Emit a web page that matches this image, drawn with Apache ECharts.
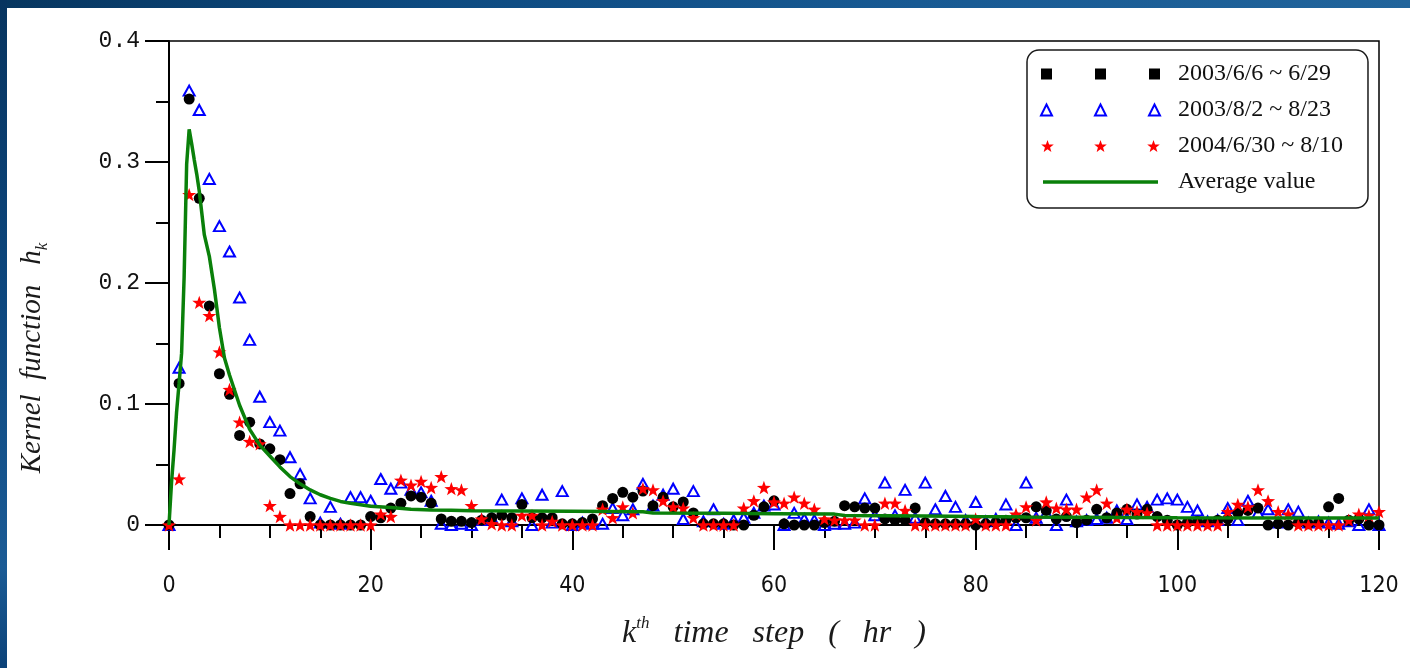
<!DOCTYPE html>
<html>
<head>
<meta charset="utf-8">
<script src="https://cdn.jsdelivr.net/npm/echarts/dist/echarts.min.js"></script>
<style>
  html, body { margin: 0; padding: 0; width: 1410px; height: 668px; overflow: hidden; }
  body { position: relative; background: linear-gradient(90deg, #07365f 0%, #0d4a80 30%, #185a93 65%, #21649b 100%); }
  #edge { position: absolute; left: 0; top: 0; width: 7px; height: 668px;
          background: linear-gradient(180deg, #07345f 0%, #0d477e 45%, #1b5b95 85%, #0c4278 100%); }
  #panel { position: absolute; left: 7px; top: 8px; right: 0; bottom: 0; background: #ffffff; }
  #chart { position: absolute; left: 0; top: 0; width: 1410px; height: 668px; }
</style>
</head>
<body>
<div id="edge"></div>
<div id="panel"></div>
<div id="chart"></div>
<script>
// time steps k = 0 … 120 (hours)
const kSteps = Array.from({ length: 121 }, (_, i) => i);

// kernel ordinates h_k, event 2003/6/6 ~ 6/29
const hJune2003 = [
  0, 0.117, 0.352, 0.270, 0.181, 0.125, 0.108, 0.074, 0.085, 0.067,
  0.063, 0.054, 0.026, 0.034, 0.007, 0, 0, 0, 0, 0,
  0.007, 0.006, 0.014, 0.018, 0.024, 0.023, 0.018, 0.005, 0.003, 0.003,
  0.002, 0.004, 0.006, 0.008, 0.006, 0.017, 0.006, 0.006, 0.006, 0.001,
  0.001, 0.002, 0.005, 0.016, 0.022, 0.027, 0.023, 0.028, 0.016, 0.023,
  0.015, 0.019, 0.010, 0.001, 0.001, 0.001, 0, 0, 0.008, 0.015,
  0.020, 0.001, 0, 0, 0, 0.002, 0.003, 0.016, 0.015, 0.014,
  0.014, 0.005, 0.004, 0.004, 0.014, 0.002, 0.001, 0.001, 0.001, 0.001,
  0, 0.001, 0.002, 0.004, 0.006, 0.006, 0.015, 0.012, 0.005, 0.007,
  0.002, 0.004, 0.013, 0.006, 0.010, 0.013, 0.009, 0.013, 0.007, 0.004,
  0, 0.002, 0.003, 0.002, 0.004, 0.005, 0.010, 0.012, 0.014, 0,
  0.001, 0, 0.002, 0.001, 0.002, 0.015, 0.022, 0.004, 0.005, 0,
  0
];

// kernel ordinates h_k, event 2003/8/2 ~ 8/23
const hAug2003 = [
  0, 0.130, 0.359, 0.343, 0.286, 0.247, 0.226, 0.188, 0.153, 0.106,
  0.085, 0.078, 0.056, 0.042, 0.022, 0.002, 0.015, 0.001, 0.023, 0.023,
  0.020, 0.038, 0.030, 0.035, 0.029, 0.027, 0.020, 0.001, 0, 0.001,
  0, 0.004, 0.006, 0.021, 0.003, 0.022, 0, 0.025, 0.002, 0.028,
  0, 0.002, 0.001, 0.001, 0.014, 0.008, 0.013, 0.034, 0.016, 0.025,
  0.030, 0.005, 0.028, 0.003, 0.013, 0.001, 0.004, 0.006, 0.010, 0.016,
  0.017, 0, 0.010, 0.005, 0.004, 0, 0.001, 0.001, 0.002, 0.022,
  0.008, 0.035, 0.008, 0.029, 0.006, 0.035, 0.013, 0.024, 0.015, 0.004,
  0.019, 0.003, 0.005, 0.017, 0, 0.035, 0.006, 0.010, 0, 0.021,
  0.003, 0.004, 0.005, 0.006, 0.012, 0.005, 0.017, 0.015, 0.021, 0.022,
  0.021, 0.015, 0.012, 0.003, 0.004, 0.014, 0.004, 0.020, 0.010, 0.013,
  0.002, 0.013, 0.011, 0.002, 0.003, 0.002, 0.001, 0.003, 0, 0.013,
  0
];

// kernel ordinates h_k, event 2004/6/30 ~ 8/10
const hJul2004 = [
  0, 0.038, 0.273, 0.184, 0.173, 0.143, 0.112, 0.085, 0.069, 0.067,
  0.016, 0.007, 0, 0, 0, 0, 0, 0, 0, 0,
  0, 0.009, 0.007, 0.037, 0.033, 0.036, 0.031, 0.040, 0.030, 0.029,
  0.016, 0.005, 0.001, 0, 0, 0.008, 0.008, 0, 0.003, 0,
  0, 0, 0, 0.013, 0.006, 0.015, 0.010, 0.030, 0.029, 0.020,
  0.015, 0.014, 0.006, 0, 0, 0, 0, 0.014, 0.020, 0.031,
  0.019, 0.018, 0.023, 0.018, 0.013, 0.005, 0.004, 0.004, 0.004, 0,
  0, 0.018, 0.018, 0.012, 0, 0, 0, 0, 0, 0,
  0.005, 0, 0, 0, 0.009, 0.015, 0.004, 0.019, 0.014, 0.013,
  0.013, 0.023, 0.029, 0.018, 0.006, 0.013, 0.011, 0.010, 0, 0,
  0, 0, 0, 0, 0, 0.011, 0.017, 0.015, 0.029, 0.020,
  0.011, 0.009, 0, 0, 0, 0, 0, 0.004, 0.009, 0.008,
  0.011
];

// averaged kernel curve (k, h_k)
const avgK = [0, 0.25, 0.5, 0.75, 1, 1.25, 1.5, 1.75, 2, 2.25, 2.5, 2.75, 3, 3.25, 3.5, 4, 4.5, 5, 5.5, 6,
              7, 8, 9, 10, 11, 12, 13, 14, 15, 16, 17, 18, 20, 22, 24, 26, 28, 30, 35, 40,
              47, 48, 55, 60, 66, 67, 75, 80, 85, 90, 95, 100, 110, 120];
const avgH = [0, 0.035, 0.062, 0.093, 0.117, 0.142, 0.205, 0.298, 0.327, 0.315, 0.302, 0.290, 0.276, 0.258, 0.240, 0.222, 0.195, 0.163, 0.138, 0.124,
              0.099, 0.079, 0.066, 0.057, 0.048, 0.040, 0.034, 0.029, 0.025, 0.022, 0.0195, 0.018, 0.0155, 0.0145, 0.013, 0.0124, 0.0121, 0.0118, 0.0116, 0.0114,
              0.0110, 0.0099, 0.0097, 0.0094, 0.0090, 0.0078, 0.0075, 0.0070, 0.0066, 0.0064, 0.0062, 0.0060, 0.0058, 0.0057];

const yTicks = ['0', '0.1', '0.2', '0.3', '0.4'];
const seriesNames = ['2003/6/6 ~ 6/29', '2003/8/2 ~ 8/23', '2004/6/30 ~ 8/10', 'Average value'];

// five-pointed star outline centred at (cx, cy)
function starPath(cx, cy, R, r) {
  let d = '';
  for (let i = 0; i < 10; i++) {
    const a = -Math.PI / 2 + i * Math.PI / 5;
    const rad = i % 2 ? r : R;
    d += (i ? 'L' : 'M') + (cx + rad * Math.cos(a)).toFixed(2) + ',' + (cy + rad * Math.sin(a)).toFixed(2);
  }
  return d + 'Z';
}

// invisible corner specks pin every legend icon to the same 119 x 12 box
const iconBox = ' M0,0h0.01v0.01z M119,12h-0.01v-0.01z';
// legend icons: three copies of each marker, and a plain bar for the curve
const legendSquares = 'path://M0,0.5h11v11h-11z M54,0.5h11v11h-11z M108,0.5h11v11h-11z' + iconBox;
const legendTriangles = 'path://M5.5,0.5L11,11.5H0Z M59.5,0.5L65,11.5H54Z M113.5,0.5L119,11.5H108Z';
const legendStars = 'path://' + starPath(6.5, 6.6, 6.6, 2.7) + ' ' + starPath(59.5, 6.6, 6.6, 2.7) + ' ' + starPath(112.5, 6.6, 6.6, 2.7) + iconBox;
const legendBar = 'path://M2,4.2H117V7.8H2Z' + iconBox;

const pairs = vals => kSteps.map((k, i) => [k, vals[i]]);

const chart = echarts.init(document.getElementById('chart'), null, { renderer: 'canvas' });

const tickFont = { color: '#111' };
const serifItalic = { fontFamily: 'Liberation Serif', fontStyle: 'italic', color: '#1a1a1a' };

chart.setOption({
  animation: false,
  backgroundColor: 'transparent',
  grid: {
    left: 169, right: 31, top: 41, bottom: 143,
    show: true, borderColor: '#000', borderWidth: 1.5
  },
  legend: {
    left: 1027, top: 50, orient: 'vertical',
    padding: [12, 25, 14, 13],
    itemGap: 12, itemWidth: 119, itemHeight: 12,
    selectedMode: false,
    backgroundColor: '#fff', borderColor: '#1a1a1a', borderWidth: 1.5, borderRadius: 12,
    textStyle: { fontFamily: 'Liberation Serif', fontSize: 24, color: '#111', lineHeight: 24, padding: [0, 0, 0, 13] },
    data: [
      { name: seriesNames[0], icon: legendSquares, itemStyle: { color: '#000', opacity: 1 } },
      { name: seriesNames[1], icon: legendTriangles, itemStyle: { color: '#fff', borderColor: '#0000ff', borderWidth: 2, opacity: 1 } },
      { name: seriesNames[2], icon: legendStars, itemStyle: { color: '#ff0000', opacity: 1 } },
      { name: seriesNames[3], icon: legendBar, itemStyle: { color: '#0a800a', borderWidth: 0, opacity: 1 } }
    ]
  },
  xAxis: {
    type: 'value', min: 0, max: 120, interval: 20,
    axisLine: { lineStyle: { color: '#000', width: 2 } },
    axisTick: { length: 25, lineStyle: { color: '#000', width: 2 } },
    minorTick: { show: true, splitNumber: 4, length: 13, lineStyle: { color: '#000', width: 2 } },
    splitLine: { show: false },
    axisLabel: Object.assign({ margin: 50, fontSize: 23, fontFamily: "'Liberation Sans Narrow', 'DejaVu Sans Condensed', sans-serif" }, tickFont),
    name: '{i|k}{sup|th}{i|   time   step   (   hr   )}',
    nameLocation: 'middle', nameGap: 90,
    nameTextStyle: {
      rich: {
        i: Object.assign({ fontSize: 32, lineHeight: 38, verticalAlign: 'middle' }, serifItalic),
        sup: Object.assign({ fontSize: 17, lineHeight: 18, verticalAlign: 'top' }, serifItalic)
      }
    }
  },
  yAxis: {
    type: 'value', min: 0, max: 0.4, interval: 0.1,
    axisLine: { lineStyle: { color: '#000', width: 2 } },
    axisTick: { length: 24, lineStyle: { color: '#000', width: 2 } },
    minorTick: { show: true, splitNumber: 2, length: 13, lineStyle: { color: '#000', width: 2 } },
    splitLine: { show: false },
    axisLabel: Object.assign({
      margin: 29, fontSize: 23, fontFamily: "'Liberation Mono', monospace",
      formatter: v => yTicks[Math.round(v * 10)]
    }, tickFont),
    name: '{t|Kernel  function}{g|}{t|h}{s|k}{pad|}',
    nameLocation: 'middle', nameGap: 118,
    nameTextStyle: {
      rich: {
        t: Object.assign({ fontSize: 29, lineHeight: 38, verticalAlign: 'middle' }, serifItalic),
        g: { width: 20 },
        s: Object.assign({ fontSize: 17, lineHeight: 17, verticalAlign: 'bottom' }, serifItalic),
        pad: { width: 150 }
      }
    }
  },
  series: [
    {
      name: seriesNames[0], type: 'scatter', z: 3,
      symbol: 'circle', symbolSize: 11,
      itemStyle: { color: '#000', opacity: 1 },
      data: pairs(hJune2003)
    },
    {
      name: seriesNames[1], type: 'scatter', z: 2,
      symbol: 'triangle', symbolSize: [11, 10],
      itemStyle: { color: 'rgba(255,255,255,0)', borderColor: '#0000ff', borderWidth: 2, opacity: 1 },
      data: pairs(hAug2003)
    },
    {
      name: seriesNames[2], type: 'scatter', z: 4,
      symbol: 'path://' + starPath(0, 0, 10, 4), symbolSize: 14, symbolKeepAspect: true,
      itemStyle: { color: '#ff0000', opacity: 1 },
      data: pairs(hJul2004)
    },
    {
      name: seriesNames[3], type: 'line', z: 5,
      symbol: 'none', showSymbol: false,
      lineStyle: { color: '#0a800a', width: 3.5 },
      itemStyle: { color: '#0a800a' },
      data: avgK.map((k, i) => [k, avgH[i]])
    }
  ]
});
</script>
</body>
</html>
